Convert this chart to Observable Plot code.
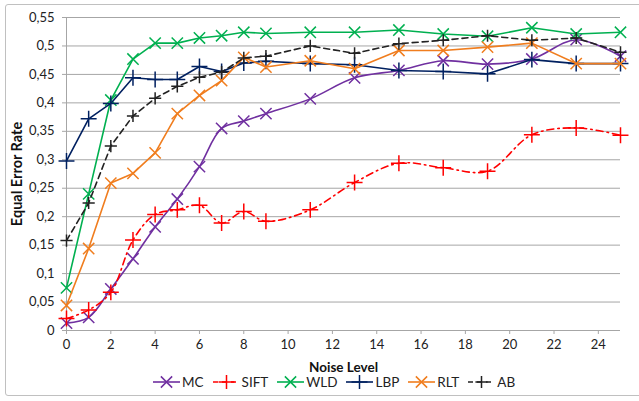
<!DOCTYPE html>
<html>
<head>
<meta charset="utf-8">
<script src="https://cdn.jsdelivr.net/npm/d3@7"></script>
<script src="https://cdn.jsdelivr.net/npm/@observablehq/plot@0.6"></script>
<style>
  html, body { margin: 0; padding: 0; background: #fff; }
  #wrap { position: relative; width: 639px; height: 401px; overflow: hidden; font-family: Lato, "Liberation Sans", sans-serif; }
  #frame { position: absolute; left: 5px; top: 4px; width: 660px; height: 392px; border: 1.5px solid #c0c0c0; border-radius: 3px; box-sizing: border-box; }
  #chart { position: absolute; left: 0; top: 0; }
  #chart svg { overflow: visible; }
  g[aria-label="x-axis label"] text { font-weight: bold; font-size: 13.5px; fill: #111; }
  g[aria-label="y-axis label"] text { font-weight: bold; font-size: 14.5px; fill: #111; }
  #legend { position: absolute; left: 153px; top: 374px; display: flex; align-items: center; font-size: 13.5px; color: #222; }
  .item { display: flex; align-items: center; margin-right: 9px; }
  .item svg { margin-right: 2px; }
</style>
</head>
<body>
<div id="wrap">
  <div id="frame"></div>
  <div id="chart"></div>
  <div id="legend"></div>
</div>
<script>
const noise = [0, 1, 2, 3, 4, 5, 6, 7, 8, 9, 11, 13, 15, 17, 19, 21, 23, 25];
const MC   = [0.013, 0.023, 0.073, 0.126, 0.182, 0.231, 0.288, 0.355, 0.368, 0.381, 0.407, 0.444, 0.457, 0.474, 0.468, 0.477, 0.511, 0.482];
const SIFT = [0.021, 0.036, 0.067, 0.159, 0.204, 0.212, 0.220, 0.189, 0.209, 0.192, 0.212, 0.260, 0.294, 0.286, 0.280, 0.344, 0.356, 0.343];
const WLD  = [0.075, 0.240, 0.405, 0.477, 0.505, 0.505, 0.514, 0.518, 0.524, 0.522, 0.524, 0.524, 0.528, 0.521, 0.517, 0.532, 0.521, 0.524];
const LBP  = [0.298, 0.372, 0.399, 0.444, 0.441, 0.441, 0.464, 0.455, 0.470, 0.473, 0.469, 0.467, 0.457, 0.455, 0.451, 0.476, 0.469, 0.469];
const RLT  = [0.044, 0.144, 0.259, 0.276, 0.312, 0.381, 0.413, 0.439, 0.480, 0.463, 0.474, 0.460, 0.492, 0.492, 0.498, 0.505, 0.469, 0.469];
const AB   = [0.158, 0.224, 0.324, 0.377, 0.408, 0.429, 0.445, 0.454, 0.479, 0.482, 0.500, 0.487, 0.504, 0.510, 0.518, 0.510, 0.514, 0.489];
const xTicks = [0, 2, 4, 6, 8, 10, 12, 14, 16, 18, 20, 22, 24];
const yTicks = [0, 0.05, 0.1, 0.15, 0.2, 0.25, 0.3, 0.35, 0.4, 0.45, 0.5, 0.55];
const seriesNames = ["MC", "SIFT", "WLD", "LBP", "RLT", "AB"];

const seriesValues = {MC, SIFT, WLD, LBP, RLT, AB};
const styles = {
  MC:   {color: "#7030a0", symbol: "times", dash: null, curve: "catmull-rom", r: 5.2},
  SIFT: {color: "#ff0000", symbol: "plus", dash: "7,4,1.5,4", curve: "catmull-rom", r: 5.2},
  WLD:  {color: "#00b050", symbol: "times", dash: null, curve: "linear", r: 5.2},
  LBP:  {color: "#002060", symbol: "plus", dash: null, curve: "linear", r: 5.2},
  RLT:  {color: "#f07d1e", symbol: "times", dash: null, curve: "linear", r: 5.2},
  AB:   {color: "#222222", symbol: "plus", dash: "6,4", curve: "linear", r: 4}
};

const data = seriesNames.flatMap(s => noise.map((x, i) => ({series: s, x, y: seriesValues[s][i]})));
const fmt = d => String(+d.toFixed(2)).replace(".", ",");

const marks = [
  Plot.gridY(yTicks, {stroke: "#a6a6a6", strokeOpacity: 1, strokeWidth: 1}),
  Plot.ruleX([0], {stroke: "#a6a6a6", strokeWidth: 1}),
  Plot.axisX({ticks: xTicks, tickSize: 4, tickPadding: 5, stroke: "#a6a6a6", label: "Noise Level", labelAnchor: "center", labelOffset: 41, labelArrow: "none", fontSize: 13}),
  Plot.axisY({ticks: yTicks, tickFormat: fmt, tickSize: 4, tickPadding: 8, stroke: "#a6a6a6", label: "Equal Error Rate", labelAnchor: "center", labelOffset: 55, labelArrow: "none", fontSize: 13})
];
for (const s of seriesNames) {
  const st = styles[s];
  const d = data.filter(o => o.series === s);
  marks.push(Plot.line(d, {x: "x", y: "y", stroke: st.color, strokeWidth: 1.6, strokeDasharray: st.dash, curve: st.curve}));
  marks.push(Plot.dot(d, {x: "x", y: "y", symbol: st.symbol, r: st.r, stroke: st.color, strokeWidth: 1.5, fill: "none"}));
}

const chart = Plot.plot({
  width: 639,
  height: 372,
  marginTop: 17,
  marginLeft: 66,
  marginRight: 19,
  marginBottom: 42,
  style: {fontFamily: 'Lato, "Liberation Sans", sans-serif', fontSize: "13px", color: "#222", background: "transparent"},
  x: {domain: [0, 25]},
  y: {domain: [0, 0.55]},
  marks: [...marks, Plot.ruleY([0], {stroke: "#a6a6a6", strokeWidth: 1})]
});
document.getElementById("chart").appendChild(chart);

// legend
const legend = document.getElementById("legend");
const symMap = {times: d3.symbolTimes, plus: d3.symbolPlus};
for (const s of seriesNames) {
  const st = styles[s];
  const item = document.createElement("div");
  item.className = "item";
  const svg = d3.create("svg").attr("width", 27).attr("height", 14);
  svg.append("line").attr("x1", 0).attr("x2", 27).attr("y1", 7).attr("y2", 7)
    .attr("stroke", st.color).attr("stroke-width", 1.6).attr("stroke-dasharray", st.dash ? "5,4" : null);
  svg.append("path").attr("transform", "translate(13.5,7)")
    .attr("d", d3.symbol(symMap[st.symbol], st.r * st.r * Math.PI)())
    .attr("fill", "none").attr("stroke", st.color).attr("stroke-width", 1.5);
  item.appendChild(svg.node());
  const label = document.createElement("span");
  label.textContent = s;
  item.appendChild(label);
  legend.appendChild(item);
}
</script>
</body>
</html>
